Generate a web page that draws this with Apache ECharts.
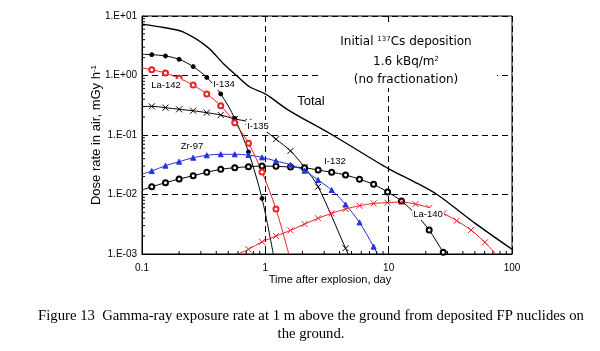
<!DOCTYPE html>
<html>
<head>
<meta charset="utf-8">
<script src="https://cdn.jsdelivr.net/npm/echarts@6/dist/echarts.min.js"></script>
<style>
html, body { margin: 0; padding: 0; background: #fff; }
#chart { width: 600px; height: 351px; }
</style>
</head>
<body>
<div id="chart"></div>
<script>
// times (day) where the nuclide curves carry a marker
const markerTimes = [0.12, 0.155, 0.2, 0.26, 0.335, 0.435, 0.565, 0.73, 0.94, 1.22, 1.6, 2.08, 2.68, 3.45, 4.47, 5.8, 7.55, 9.8, 12.7, 16.5, 21.3, 27.7, 35.6, 46.5, 60.3];

// dose rate (mGy/h) at markerTimes, null = no point there
const i134 = [2.24, 2.13, 1.87, 1.41, 0.93, 0.49, 0.19, 0.052, 0.0086];
const la142 = [1.25, 1.10, 0.90, 0.69, 0.49, 0.31, 0.161, 0.073, 0.024, 0.0057];
const i135 = [0.303, 0.288, 0.27, 0.256, 0.237, 0.217, 0.186, 0.167, 0.128, 0.085, 0.054, 0.0287, 0.0135, null, 0.00125];
const zr97 = [0.0248, 0.0305, 0.0356, 0.0415, 0.0456, 0.0474, 0.0474, 0.0461, 0.042, 0.0366, 0.0316, 0.0251, 0.0175, 0.0119, 0.0068, 0.0034, 0.00133];
const i132 = [0.0135, 0.0158, 0.0182, 0.0207, 0.0236, 0.0265, 0.0282, 0.0293, 0.0301, 0.0297, 0.029, 0.0282, 0.0258, 0.0236, 0.0213, 0.018, 0.0148, 0.011, 0.0078, 0.0047, 0.00253, 0.00107];
const la140 = [null, null, null, null, null, null, null, 0.0012, 0.0016, 0.002, 0.0025, 0.00319, 0.00398, 0.00483, 0.0057, 0.00648, 0.0071, 0.00728, 0.00748, 0.0069, 0.006, 0.00483, 0.00363, 0.00253, 0.00157];

// where each line enters and leaves the frame (no marker)
const i134Ends = [[0.1, 2.27], [1.16, 0.001]];
const la142Ends = [[0.1, 1.35], [1.55, 0.001]];
const i135Ends = [[0.1, 0.30], [4.7, 0.001]];
const zr97Ends = [[0.1, 0.022], [8.1, 0.001]];
const i132Ends = [[0.1, 0.0119], [28.5, 0.001]];
const la140Ends = [[0.6, 0.001], [74, 0.001]];

// total dose rate, plain line
const totalTimes = [0.1, 0.15, 0.215, 0.34, 0.46, 0.59, 0.75, 1.0, 1.55, 3.5, 10, 16, 25, 50, 100];
const totalValues = [7.3, 6.4, 5.4, 3.0, 1.56, 0.98, 0.64, 0.49, 0.26, 0.1, 0.027, 0.0165, 0.0098, 0.0033, 0.0012];

const xTickLabels = ['0.1', '1', '10', '100'];
const yTickLabels = ['1.E-03', '1.E-02', '1.E-01', '1.E+00', '1.E+01'];
const minorSteps = [2, 3, 4, 5, 6, 7, 8, 9];

const RED = '#e82323';
const BLUE = '#2233dd';
const SANS = '"Liberation Sans", Arial, sans-serif';

function build(values, ends) {
    const pts = [{ value: ends[0], symbol: 'none' }];
    values.forEach(function(v, i) {
        if (v != null) pts.push([markerTimes[i], v]);
    });
    pts.push({ value: ends[1], symbol: 'none' });
    return pts;
}

function nuclide(name, values, ends, color, symbol, size, border) {
    return {
        name: name,
        type: 'line',
        data: build(values, ends),
        smooth: 0.3,
        symbol: symbol,
        symbolSize: size,
        showAllSymbol: true,
        lineStyle: { color: color, width: 1 },
        itemStyle: { color: color, borderColor: color, borderWidth: border },
        emphasis: { disabled: true },
        z: 3
    };
}

const xMinor = [];
[0.1, 1, 10].forEach(function(d) { minorSteps.forEach(function(k) { xMinor.push([k * d, 0.001]); }); });
const yMinor = [];
[0.001, 0.01, 0.1, 1].forEach(function(d) { minorSteps.forEach(function(k) { yMinor.push([0.1, k * d]); }); });

const X_MARK = 'path://M0,0L10,10M10,0L0,10';

function seriesLabel(text, x, y) {
    return {
        type: 'text', z: 51,
        style: { x: x, y: y, align: 'center', verticalAlign: 'middle', text: text, font: '9.5px ' + SANS, fill: '#000', backgroundColor: '#fff', padding: [1, 1] }
    };
}

const chart = echarts.init(document.getElementById('chart'));
const option = {
    animation: false,
    backgroundColor: '#fff',
    grid: { left: 142, right: 88, top: 16, bottom: 97, show: true, borderColor: '#000', borderWidth: 1 },
    xAxis: {
        type: 'log',
        logBase: 10,
        min: 0.1,
        max: 100,
        name: 'Time after explosion, day',
        nameLocation: 'middle',
        nameGap: 20,
        nameMoveOverlap: false,
        nameTextStyle: { fontFamily: SANS, fontSize: 11, color: '#000', padding: [0, 0, 0, 6] },
        axisLine: { lineStyle: { color: '#000', width: 1 } },
        axisTick: { inside: true, length: 5, lineStyle: { color: '#000' } },
        axisLabel: {
            fontFamily: SANS, fontSize: 10, color: '#000', margin: 9,
            formatter: function(v) { return xTickLabels[Math.round(Math.log10(v)) + 1]; }
        },
        splitLine: { show: true, lineStyle: { color: '#000', type: [6, 4], width: 1 } }
    },
    yAxis: {
        type: 'log',
        logBase: 10,
        min: 0.001,
        max: 10,
        name: 'Dose rate in air, mGy h{sup|-1}',
        nameLocation: 'middle',
        nameGap: 39,
        nameMoveOverlap: false,
        nameRotate: 90,
        nameTextStyle: {
            fontFamily: SANS, fontSize: 13, color: '#000',
            rich: { sup: { fontFamily: SANS, fontSize: 8, color: '#000', verticalAlign: 'top' } }
        },
        axisLine: { lineStyle: { color: '#000', width: 1 } },
        axisTick: { inside: true, length: 5, lineStyle: { color: '#000' } },
        axisLabel: {
            fontFamily: SANS, fontSize: 10, color: '#000', margin: 5,
            formatter: function(v) { return yTickLabels[Math.round(Math.log10(v)) + 3]; }
        },
        splitLine: { show: true, lineStyle: { color: '#000', type: [6, 4], width: 1 } }
    },
    series: [
        {
            name: 'Total',
            type: 'line',
            data: totalTimes.map(function(t, i) { return [t, totalValues[i]]; }),
            smooth: 0.3,
            symbol: 'none',
            lineStyle: { color: '#000', width: 1.4 },
            emphasis: { disabled: true },
            z: 3
        },
        nuclide('I-134', i134, i134Ends, '#000', 'circle', 4, 1),
        nuclide('I-135', i135, i135Ends, '#000', X_MARK, 6, 1),
        nuclide('I-132', i132, i132Ends, '#000', 'emptyCircle', 5, 0.9),
        nuclide('Zr-97', zr97, zr97Ends, BLUE, 'triangle', 5, 1),
        nuclide('La-140', la140, la140Ends, RED, X_MARK, 6, 1),
        nuclide('La-142', la142, la142Ends, RED, 'emptyCircle', 5, 0.9),
        {
            type: 'custom',
            data: xMinor,
            clip: false,
            silent: true,
            renderItem: function(params, api) {
                const p = api.coord([api.value(0), api.value(1)]);
                return { type: 'line', shape: { x1: p[0], y1: p[1], x2: p[0], y2: p[1] - 3 }, style: { stroke: '#000', lineWidth: 1 } };
            },
            z: 4
        },
        {
            type: 'custom',
            data: yMinor,
            clip: false,
            silent: true,
            renderItem: function(params, api) {
                const p = api.coord([api.value(0), api.value(1)]);
                return { type: 'line', shape: { x1: p[0], y1: p[1], x2: p[0] + 3, y2: p[1] }, style: { stroke: '#000', lineWidth: 1 } };
            },
            z: 4
        }
    ],
    graphic: [
        { type: 'rect', z: 50, shape: { x: 318, y: 24, width: 179, height: 64 }, style: { fill: '#fff' } },
        {
            type: 'text', z: 51, style: {
                x: 406, y: 42, align: 'center', verticalAlign: 'middle',
                text: '{a|Initial }{s|137}{a|Cs deposition}',
                rich: {
                    a: { fontFamily: '"DejaVu Sans"', fontSize: 12, fill: '#000' },
                    s: { fontFamily: '"DejaVu Sans"', fontSize: 7, fill: '#000', verticalAlign: 'top' }
                }
            }
        },
        {
            type: 'text', z: 51, style: {
                x: 406, y: 62, align: 'center', verticalAlign: 'middle',
                text: '{a|1.6 kBq/m}{s|2}',
                rich: {
                    a: { fontFamily: '"DejaVu Sans"', fontSize: 12, fill: '#000' },
                    s: { fontFamily: '"DejaVu Sans"', fontSize: 7, fill: '#000', verticalAlign: 'top' }
                }
            }
        },
        { type: 'text', z: 51, style: { x: 406, y: 80, align: 'center', verticalAlign: 'middle', text: '(no fractionation)', font: '12px "DejaVu Sans"', fill: '#000' } },
        { type: 'text', z: 51, style: { x: 311, y: 101, align: 'center', verticalAlign: 'middle', text: 'Total', font: '13px ' + SANS, fill: '#000' } },
        seriesLabel('La-142', 166, 85),
        seriesLabel('I-134', 224, 84),
        seriesLabel('I-135', 258, 126),
        seriesLabel('Zr-97', 192, 146),
        seriesLabel('I-132', 335, 161),
        seriesLabel('La-140', 428, 214),
        { type: 'text', z: 51, style: { x: 311, y: 316, align: 'center', verticalAlign: 'middle', text: 'Figure 13  Gamma-ray exposure rate at 1 m above the ground from deposited FP nuclides on', font: '14.7px "Liberation Serif"', fill: '#000' } },
        { type: 'text', z: 51, style: { x: 311, y: 334, align: 'center', verticalAlign: 'middle', text: 'the ground.', font: '14.7px "Liberation Serif"', fill: '#000' } }
    ]
};
chart.setOption(option);
window.addEventListener('resize', function() {
    chart.resize();
});
</script>
</body>
</html>
